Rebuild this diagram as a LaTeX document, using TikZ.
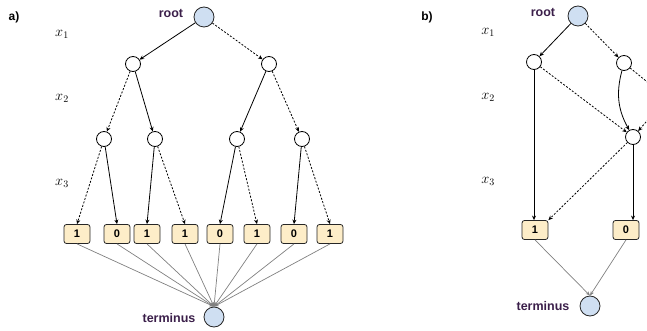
\documentclass[tikz,border=0pt]{standalone}
\usepackage{fontspec}
\setsansfont{Liberation Sans}
\usetikzlibrary{arrows.meta}
\definecolor{lbl}{HTML}{3B1F4A}
\definecolor{rootfill}{HTML}{CFDFF2}
\definecolor{boxfill}{HTML}{FDEDC8}
\begin{document}
\begin{tikzpicture}[x=1pt,y=-1pt,
 bignode/.style={circle,draw=black!85,fill=rootfill,minimum size=20pt,inner sep=0pt,line width=0.8pt},
 inode/.style={circle,draw=black,fill=white,minimum size=15pt,inner sep=0pt,line width=0.8pt},
 leafbox/.style={rectangle,rounded corners=2.5pt,draw=black!85,fill=boxfill,minimum width=26pt,minimum height=19pt,inner sep=0pt,line width=0.8pt,font=\sffamily\bfseries\fontsize{11}{13}\selectfont},
 hiedge/.style={-{Stealth[length=4.5pt,width=4pt]},line width=0.8pt},
 loedge/.style={hiedge,dash pattern=on 2pt off 1.6pt},
 gedge/.style={draw=black!50,line width=0.7pt,-{Stealth[length=4.5pt,width=3.5pt]}},
 lab/.style={font=\sffamily\bfseries\fontsize{12.5}{14}\selectfont, text=lbl},
 panel/.style={font=\sffamily\bfseries\fontsize{12}{14}\selectfont},
 varlab/.style={font=\fontsize{14}{16}\selectfont}
]
\path[use as bounding box] (0,0) rectangle (647,331);
\clip (0,0) rectangle (647,331);

% ---------- panel a ----------
\node[panel] (pa) at (14,17) {a)};
\node[varlab] (ax1) at (62,34) {$x_1$};
\node[varlab] (ax2) at (62,98) {$x_2$};
\node[varlab] (ax3) at (62,183) {$x_3$};

\node[bignode] (ra) at (204,17) {};
\node[lab] (ral) at (171,13) {root};
\node[inode] (n1) at (133,64) {};
\node[inode] (n2) at (269,64) {};
\node[inode] (m1) at (104,139) {};
\node[inode] (m2) at (155,139) {};
\node[inode] (m3) at (237,139) {};
\node[inode] (m4) at (302,139) {};
\node[leafbox] (l1) at (77,234) {1};
\node[leafbox] (l2) at (117,234) {0};
\node[leafbox] (l3) at (147,234) {1};
\node[leafbox] (l4) at (185,234) {1};
\node[leafbox] (l5) at (220,234) {0};
\node[leafbox] (l6) at (257,234) {1};
\node[leafbox] (l7) at (294,234) {0};
\node[leafbox] (l8) at (330,234) {1};
\node[bignode] (ta) at (214,317) {};
\node[lab] (tal) at (169,318) {terminus};

\draw[hiedge] (ra) -- (n1);
\draw[loedge] (ra) -- (n2);
\draw[loedge] (n1) -- (m1);
\draw[hiedge] (n1) -- (m2);
\draw[hiedge] (n2) -- (m3);
\draw[loedge] (n2) -- (m4);
\draw[loedge] (m1) -- (l1.north);
\draw[hiedge] (m1) -- (l2.north);
\draw[hiedge] (m2) -- (l3.north);
\draw[loedge] (m2) -- (l4.north);
\draw[hiedge] (m3) -- (l5.north);
\draw[loedge] (m3) -- (l6.north);
\draw[hiedge] (m4) -- (l7.north);
\draw[loedge] (m4) -- (l8.north);
\foreach \l in {l1,l2,l3,l4,l5,l6,l7,l8}
  \draw[gedge] (\l.south) -- (ta.north);

% ---------- panel b ----------
\node[panel] (pb) at (427,17) {b)};
\node[varlab] (bx1) at (488,32) {$x_1$};
\node[varlab] (bx2) at (488,97) {$x_2$};
\node[varlab] (bx3) at (488,181) {$x_3$};

\node[bignode] (rb) at (578,16) {};
\node[lab] (rbl) at (543,12) {root};
\node[inode] (p1) at (534,62) {};
\node[inode] (p2) at (624,63) {};
\node[inode] (q) at (633,137) {};
\node[leafbox] (b1) at (535,230) {1};
\node[leafbox] (b0) at (626,230) {0};
\node[bignode] (tb) at (590,306) {};
\node[lab] (tbl) at (543,306) {terminus};
\coordinate (offa) at (700,125);
\coordinate (offb) at (672,92);

\draw[hiedge] (rb) -- (p1);
\draw[loedge] (rb) -- (p2);
\draw[hiedge] (p1) -- (p1 |- b1.north);
\draw[loedge] (p1) -- (q);
\draw[hiedge] (p2) to[bend right=22] (q);
\draw[loedge] (p2) -- (offa);
\draw[loedge] (offb) -- (q);
\draw[hiedge] (q) -- (q |- b0.north);
\draw[loedge] (q) -- (b1.north east);
\draw[gedge] (b1.south) -- (tb.north);
\draw[gedge] (b0.south) -- (tb.north);
\end{tikzpicture}
\end{document}
